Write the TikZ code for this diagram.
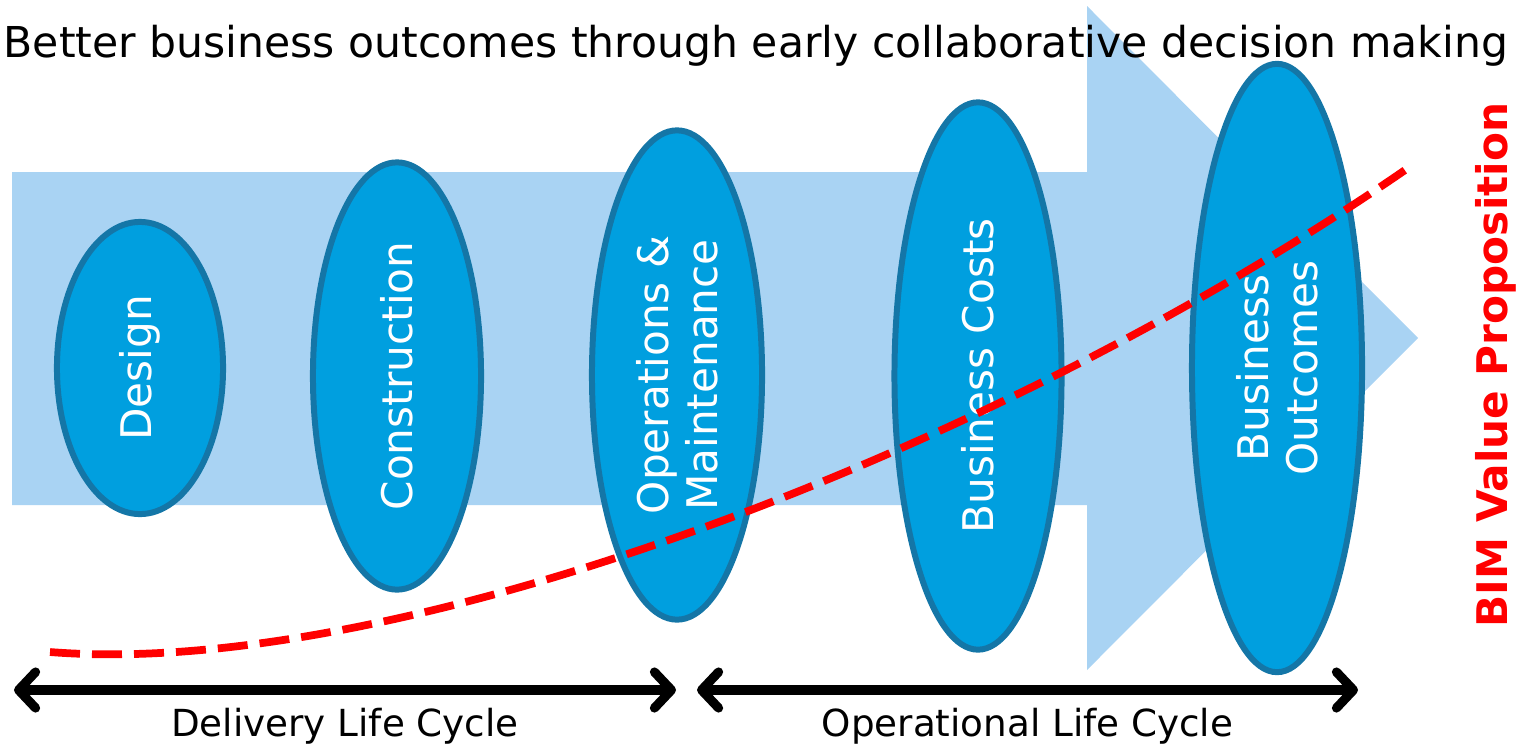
\documentclass[tikz,border=0pt]{standalone}
\usepackage{fontspec}
\setmainfont{DejaVu Sans}
\usepackage{tikz}
\usepackage{xcolor}
\usetikzlibrary{shapes.geometric}
\usetikzlibrary{arrows.meta}
\usetikzlibrary{positioning}
\definecolor{arrowblue}{RGB}{169,211,243}
\definecolor{phaseblue}{RGB}{0,159,223}
\definecolor{ringblue}{RGB}{20,118,167}
\definecolor{bimred}{RGB}{255,0,0}
\tikzset{
  phase/.style={ellipse,draw=ringblue,fill=phaseblue,line width=1.7pt,text=white,rotate=90,inner sep=0pt,align=center,font=\fontsize{12}{14}\selectfont},
  cycleline/.style={line width=2.6pt,{Straight Barb[length=1.7mm,width=3.6mm,round]}-{Straight Barb[length=1.7mm,width=3.6mm,round]}},
  cyclelabel/.style={below=0.02cm,font=\fontsize{10.6}{12}\selectfont}
}
\begin{document}
\begin{tikzpicture}[x=0.01cm,y=-0.01cm]
	\useasboundingbox (0,0) rectangle (1519,748);
	\fill[arrowblue] (12,172) -- (1087,172) -- (1087,6) -- (1418,338) -- (1087,670) -- (1087,505) -- (12,505) -- cycle;
	\node (title) at (756,57) [anchor=base,font=\fontsize{12.1}{14}\selectfont] {Better business outcomes through early collaborative decision making};
	\node (design) at (140,368) [phase,minimum width=2.92cm,minimum height=1.66cm] {Design};
	\node (build) at (397,376) [phase,minimum width=4.27cm,minimum height=1.68cm] {Construction};
	\node (ops) at (677,375) [phase,minimum width=4.89cm,minimum height=1.70cm] {Operations \&\\Maintenance};
	\node (costs) at (978,376) [phase,minimum width=5.47cm,minimum height=1.67cm] {Business Costs};
	\node (outcomes) at (1277,368) [phase,minimum width=6.08cm,minimum height=1.70cm] {Business\\Outcomes};
	\node (bim) at (1496,365) [rotate=90,text=bimred,font=\fontsize{12}{14}\selectfont\bfseries] {BIM Value Proposition};
	\coordinate (curvestart) at (50,652);
	\coordinate (curveend) at (1408,168);
	\draw[bimred,line width=2.2pt,dash pattern=on 0.3cm off 0.12cm] (curvestart) .. controls (400,680) and (1000,450) .. (curveend);
	\coordinate (dstart) at (14,690);
	\coordinate (dend) at (676,690);
	\coordinate (ostart) at (697,690);
	\coordinate (oend) at (1358,690);
	\draw[cycleline] (dstart) to node[cyclelabel]{Delivery Life Cycle} (dend);
	\draw[cycleline] (ostart) to node[cyclelabel]{Operational Life Cycle} (oend);
\end{tikzpicture}
\end{document}
